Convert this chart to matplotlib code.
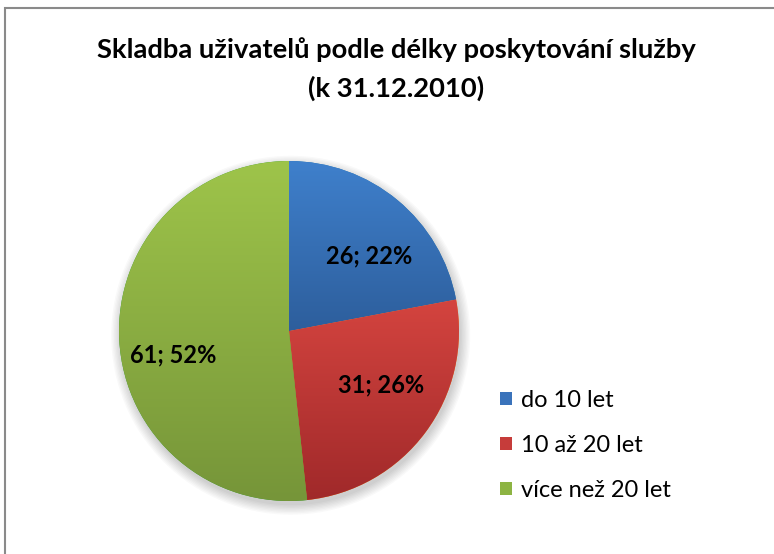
import numpy as np
import matplotlib.pyplot as plt
from matplotlib.colors import LinearSegmentedColormap
from matplotlib.patches import Circle, Rectangle, Patch

plt.rcParams['font.family'] = ['Lato', 'DejaVu Sans']

# data
labels = ['do 10 let', '10 až 20 let', 'více než 20 let']
values = [26, 31, 61]
top_colors = ['#3f80cc', '#d4443f', '#9ec44a']
bottom_colors = ['#2d5e9c', '#a0292a', '#769539']
legend_colors = ['#3a73bb', '#c63c3a', '#8db443']

fig = plt.figure(figsize=(7.74, 5.54), dpi=100)
ax = fig.add_axes([119 / 774, 53 / 554, 340 / 774, 340 / 554])

total = sum(values)

# soft shadow under the pie
for k in range(8):
    ax.add_patch(Circle((0.01, -0.025), 1.0 + k * 0.008, color='black',
                        alpha=0.025, lw=0, zorder=0, clip_on=False))

wedges, _ = ax.pie(values, startangle=90, counterclock=False, radius=1.0,
                   wedgeprops=dict(lw=0))

# vertical gradient fill per slice (lighter at top)
grad = np.linspace(1, 0, 256).reshape(-1, 1)
theta0 = 90
for w, v, c1, c2 in zip(wedges, values, top_colors, bottom_colors):
    w.set_zorder(1)
    theta1 = theta0 - v / total * 360
    ang = np.radians(np.linspace(theta1, theta0, 200))
    ys = np.concatenate([np.sin(ang), [0]])
    xs = np.concatenate([np.cos(ang), [0]])
    cmap = LinearSegmentedColormap.from_list('g', [c2, c1])
    im = ax.imshow(grad, cmap=cmap, extent=[xs.min(), xs.max(), ys.min(), ys.max()],
                   aspect='auto', zorder=2, interpolation='bilinear')
    im.set_clip_path(w)
    theta0 = theta1

ax.set_xlim(-1, 1)
ax.set_ylim(-1, 1)
ax.set_aspect('equal')
ax.axis('off')

# data labels
label_pos = [(0.47, 0.44), (0.54, -0.32), (-0.68, -0.14)]
for (x, y), v in zip(label_pos, values):
    ax.text(x, y, f'{v}; {round(v / total * 100)}%', ha='center', va='center',
            fontsize=17, fontweight='bold', color='black', zorder=5)

fig.text(396 / 774, 1 - 50 / 554, 'Skladba uživatelů podle délky poskytování služby',
         ha='center', va='center', fontsize=19.7, fontweight='bold')
fig.text(396 / 774, 1 - 88 / 554, '(k 31.12.2010)',
         ha='center', va='center', fontsize=19.7, fontweight='bold')

handles = [Patch(facecolor=c, edgecolor='none') for c in legend_colors]
fig.legend(handles, labels, loc='upper left', bbox_to_anchor=(488 / 774, 1 - 378 / 554),
           frameon=False, fontsize=17, handlelength=0.5, handleheight=0.5,
           handletextpad=0.4, labelspacing=1.02, borderpad=0)

# chart area border
fig.add_artist(Rectangle((5 / 774, -0.1), 1.2, 1.1 - 8 / 554, transform=fig.transFigure,
                         fill=False, edgecolor='#8a8a8a', lw=1.5))

fig.savefig('out.png', dpi=100, facecolor='white')
